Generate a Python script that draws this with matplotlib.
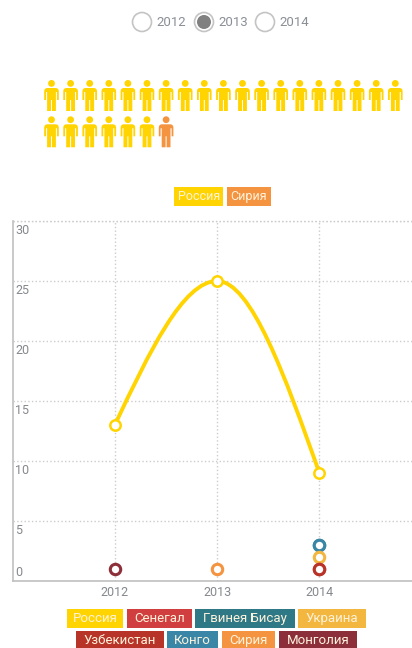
import matplotlib
matplotlib.use('Agg')
import matplotlib.pyplot as plt
from matplotlib.patches import Circle, PathPatch, Rectangle
from matplotlib.path import Path

plt.rcParams['font.family'] = ['Roboto', 'DejaVu Sans']

# data
years = [2012, 2013, 2014]
russia = [13, 25, 9]
points = [('Монголия', 2012, 1), ('Сирия', 2013, 1), ('Гвинея Бисау', 2014, 3),
          ('Конго', 2014, 3), ('Украина', 2014, 2), ('Сенегал', 2014, 1),
          ('Узбекистан', 2014, 1)]
y_ticks = [0, 5, 10, 15, 20, 25, 30]
selected_year = 2013
people_labels = ['Россия', 'Сирия']
people_counts = [25, 1]
legend_row1 = ['Россия', 'Сенегал', 'Гвинея Бисау', 'Украина']
legend_row2 = ['Узбекистан', 'Конго', 'Сирия', 'Монголия']
colors = {'Россия': '#ffd400', 'Сенегал': '#d13e40', 'Гвинея Бисау': '#2f7886',
          'Украина': '#f3b63e', 'Узбекистан': '#b93428', 'Конго': '#3a86a6',
          'Сирия': '#f59440', 'Монголия': '#8d2f3b'}

W, H = 412, 648
fig = plt.figure(figsize=(W/100, H/100), dpi=100)

# page layer in pixels
page = fig.add_axes([0, 0, 1, 1], zorder=3)
page.set_xlim(0, W)
page.set_ylim(H, 0)
page.axis('off')
page.patch.set_alpha(0)

# radio buttons
for year, cx in zip(years, [142, 204, 265]):
    page.add_patch(Circle((cx, 22), 9.5, fc='white', ec='#c4c4c4', lw=1.2))
    if year == selected_year:
        page.add_patch(Circle((cx, 22), 7, fc='#808080', ec='none'))
    page.text(cx + 14, 22, str(year), color='#8a8f96', fontsize=9.5, va='center', ha='left')


def person(cx, top, color):
    # head, then arms and torso and legs, about 15 wide and 31 tall
    page.add_patch(Circle((cx, top + 3.4), 3.4, fc=color, ec='none'))
    codes = [Path.MOVETO, Path.CURVE3, Path.CURVE3, Path.LINETO, Path.LINETO, Path.LINETO,
             Path.LINETO, Path.LINETO, Path.LINETO, Path.LINETO, Path.LINETO, Path.LINETO,
             Path.LINETO, Path.LINETO, Path.LINETO, Path.LINETO, Path.LINETO, Path.LINETO,
             Path.CURVE3, Path.CURVE3, Path.CLOSEPOLY]
    verts = [(-4, 8), (-7.3, 8), (-7.3, 11.5), (-7.3, 20), (-5.5, 20), (-5.5, 12),
             (-4.4, 12), (-4.4, 31), (-0.5, 31), (-0.5, 20), (0.5, 20), (0.5, 31),
             (4.4, 31), (4.4, 12), (5.5, 12), (5.5, 20), (7.3, 20), (7.3, 11.5),
             (7.3, 8), (4, 8), (-4, 8)]
    verts = [(cx + a, top + b) for a, b in verts]
    page.add_patch(PathPatch(Path(verts, codes), fc=color, ec='none'))


# pictogram, one figure per person
n = 0
for label, count in zip(people_labels, people_counts):
    for i in range(count):
        row = n // 19
        col = n % 19
        person(51.5 + col*19.1, 80 + row*36.3, colors[label])
        n += 1


def tag(label, x0, x1, y0, y1, size=9.5):
    page.add_patch(Rectangle((x0, y0), x1 - x0, y1 - y0, fc=colors[label], ec='none'))
    page.text((x0 + x1)/2, (y0 + y1)/2, label, color='#fdf3dc', fontsize=size, ha='center', va='center')


# legends
for label, x0, x1 in zip(people_labels, [174.5, 227], [223, 271]):
    tag(label, x0, x1, 187, 206, 9)
for label, x0, x1 in zip(legend_row1, [67, 127.5, 195.5, 298.5], [123.5, 192, 295, 366]):
    tag(label, x0, x1, 609, 628)
for label, x0, x1 in zip(legend_row2, [76, 167, 222, 279], [164, 218, 275, 357]):
    tag(label, x0, x1, 631, 650)

# chart
ax = fig.add_axes([12.5/W, 1 - 581/H, 1 - 12.5/W, 360/H], zorder=2)
ax.set_xlim(2011, 2011 + (W - 12.5)/102.3)
ax.set_ylim(0, 30)
ax.set_xticks(years)
ax.set_yticks(y_ticks)
ax.set_yticklabels([])
ax.set_xticklabels([str(y) for y in years], color='#85888c', fontsize=9)
ax.tick_params(length=0, pad=3.5)
ax.grid(True, color='#cccccc', ls=':', lw=1)
ax.set_axisbelow(True)
for s in ['top', 'right']:
    ax.spines[s].set_visible(False)
for s in ['left', 'bottom']:
    ax.spines[s].set_color('#c0c0c0')
    ax.spines[s].set_linewidth(1.2)
# grid line at the top of the chart
ax.axhline(y_ticks[-1], color='#cccccc', ls=':', lw=1, clip_on=False)

# y labels sit under their grid lines, except the zero
for t in y_ticks:
    offset = 6 if t == 0 else -7
    ax.annotate(str(t), (2011, t), xytext=(2.0, offset), textcoords='offset points',
                color='#85888c', fontsize=9, va='center', ha='left')

# smooth line through the Russia values, flat at the peak
rise = russia[1] - russia[0]
fall = russia[2] - russia[1]
verts = [(years[0], russia[0]),
         (years[0] + 1/3, russia[0] + rise*0.5), (years[1] - 1/3, russia[1]), (years[1], russia[1]),
         (years[1] + 1/3, russia[1]), (years[2] - 1/3, russia[2] - fall*0.5), (years[2], russia[2])]
codes = [Path.MOVETO] + [Path.CURVE4]*6
ax.add_patch(PathPatch(Path(verts, codes), fc='none', ec=colors['Россия'], lw=2.8, capstyle='round'))
ax.plot(years, russia, ls='none', marker='o', ms=7.5, mfc='white', mec=colors['Россия'], mew=1.8, zorder=5)

for label, year, value in points:
    ax.plot([year], [value], ls='none', marker='o', ms=7.5, mfc='white', mec=colors[label],
            mew=2.2, zorder=5, clip_on=False)

fig.savefig('out.png', dpi=100)
